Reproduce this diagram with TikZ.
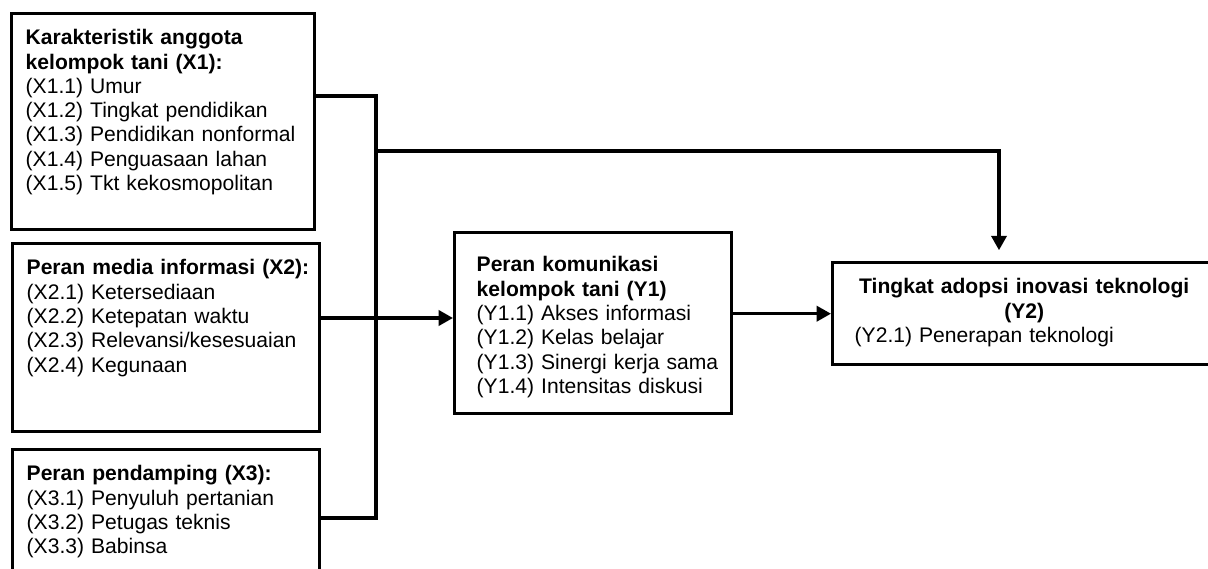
\documentclass[tikz,border=0pt]{standalone}
\usepackage{fontspec}
\setmainfont{Liberation Sans}
\usetikzlibrary{arrows.meta}

\begin{document}
\begin{tikzpicture}[
        x=0.025cm, y=-0.025cm,
        block/.style={draw, line width=2.4pt, anchor=north west,
            inner ysep=0.3cm, text height=0.475cm,
            font=\fontsize{15}{17.3}\selectfont},
        varx/.style={block, inner xsep=0.35cm},
        vary/.style={block, inner xsep=0.55cm},
        line/.style={line width=2.3pt},
        arrow/.style={line, -{Triangle[length=0.36cm, width=0.38cm]}}
    ]
        \clip (0,0) rectangle (1208,569);

        % Variabel X
        \node[varx, text width=6.875cm, text depth=4.325cm] (X1) at (10,12)
            {\begin{tabular}[t]{@{}l@{}}
             \textbf{Karakteristik anggota}\\ \textbf{kelompok tani (X1):}\\
             (X1.1) Umur\\ (X1.2) Tingkat pendidikan\\ (X1.3) Pendidikan nonformal\\
             (X1.4) Penguasaan lahan\\ (X1.5) Tkt kekosmopolitan
             \end{tabular}};
        \node[varx, text width=6.975cm, text depth=3.625cm] (X2) at (11,242)
            {\begin{tabular}[t]{@{}l@{}}
             \textbf{Peran media informasi (X2):}\\ (X2.1) Ketersediaan\\
             (X2.2) Ketepatan waktu\\ (X2.3) Relevansi/kesesuaian\\ (X2.4) Kegunaan
             \end{tabular}};
        \node[varx, text width=6.975cm, text depth=2.925cm] (X3) at (11,448)
            {\begin{tabular}[t]{@{}l@{}}
             \textbf{Peran pendamping (X3):}\\ (X3.1) Penyuluh pertanian\\
             (X3.2) Petugas teknis\\ (X3.3) Babinsa
             \end{tabular}};

        % Variabel Y
        \node[vary, text width=5.825cm, text height=0.675cm, text depth=3.25cm] (Y1) at (453,231)
            {\begin{tabular}[t]{@{}l@{}}
             \textbf{Peran komunikasi}\\ \textbf{kelompok tani (Y1)}\\
             (Y1.1) Akses informasi\\ (Y1.2) Kelas belajar\\
             (Y1.3) Sinergi kerja sama\\ (Y1.4) Intensitas diskusi
             \end{tabular}};
        \node[vary, text width=8.475cm, text depth=1.475cm] (Y2) at (831,261)
            {\begin{tabular}[t]{@{}l@{}}
             \makebox[8.475cm]{\textbf{Tingkat adopsi inovasi teknologi}}\\
             \makebox[8.475cm]{\textbf{(Y2)}}\\
             (Y2.1) Penerapan teknologi
             \end{tabular}};

        % Titik bantu
        \coordinate (bustop) at (376,96);
        \coordinate (busbot) at (376,518);
        \coordinate (branch) at (376,151);
        \coordinate (drop) at (999,151);

        % Verbindungen
        \draw[line] (X1.east |- bustop) -- (bustop) -- (busbot) -- (X3.east |- busbot);
        \draw[arrow, shorten >=0.27cm] (branch) -- (drop) -- (drop |- Y2.north);
        \draw[arrow] (X2.east |- 0,318) -- (Y1.west |- 0,318);
        \draw[arrow] (Y1.east |- Y2.west) -- (Y2.west);

    \end{tikzpicture}
\end{document}
